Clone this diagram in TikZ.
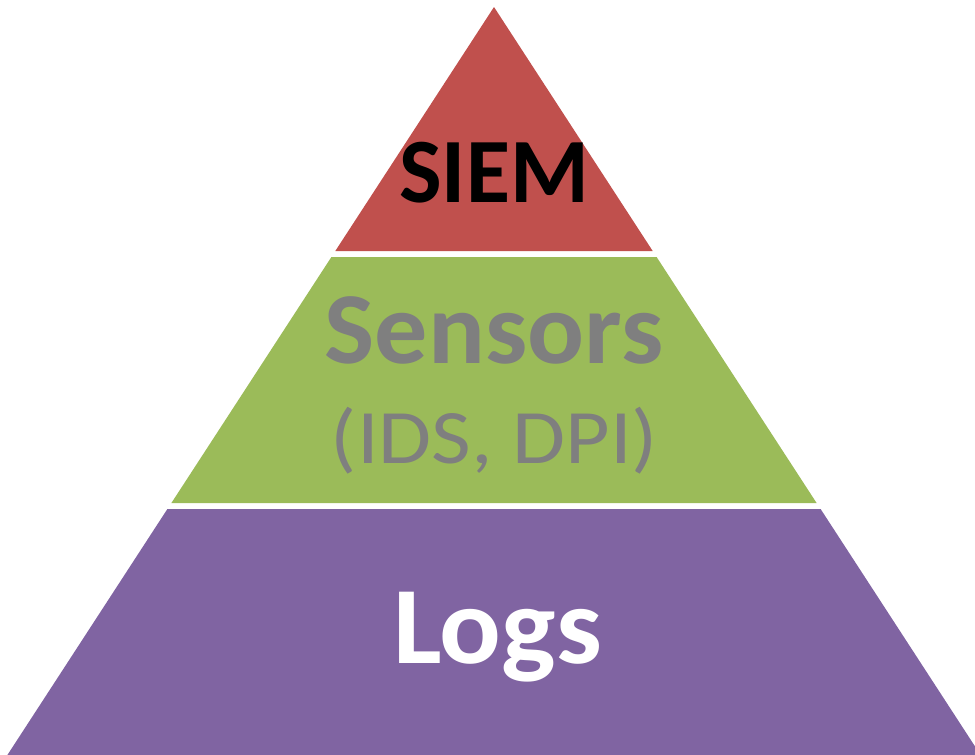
\documentclass[tikz,border=0pt]{standalone}
\usepackage{fontspec}
\setmainfont{Carlito}

\definecolor{siemred}{HTML}{C0504D}
\definecolor{sensgreen}{HTML}{9BBB59}
\definecolor{logpurple}{HTML}{8064A2}
\definecolor{labelgray}{HTML}{7F7F7F}

\tikzset{
  layertext/.style={anchor=base, inner sep=0pt, transform shape},
}

\begin{document}
\begin{tikzpicture}[x=1pt, y=-1pt]

  \useasboundingbox (0,0) rectangle (975,755);
  \clip (0,0) rectangle (975,755);

  % Layers
  \fill[siemred]    (494,7) -- (652.7,251) -- (335.3,251) -- cycle;
  \fill[sensgreen]  (331.4,257) -- (656.6,257) -- (816.6,503) -- (171.4,503) -- cycle;
  \fill[logpurple]  (167.4,509) -- (820.6,509) -- (980.6,755) -- (7.4,755) -- cycle;

  % Labels
  \node[layertext, xscale=0.98, font=\fontsize{92}{92}\bfseries\selectfont, text=black]
    (siem) at (494,202) {SIEM};
  \node[layertext, xscale=1.04, font=\fontsize{102}{102}\bfseries\selectfont, text=labelgray]
    (sensors) at (494,363) {Sensors};
  \node[layertext, xscale=1.12, font=\fontsize{77}{77}\selectfont, text=labelgray]
    (idsdpi) at (494.5,463) {(IDS, DPI)};
  \node[layertext, xscale=1.045, font=\fontsize{110}{110}\bfseries\selectfont, text=white]
    (logs) at (497.5,663) {Logs};

\end{tikzpicture}
\end{document}
